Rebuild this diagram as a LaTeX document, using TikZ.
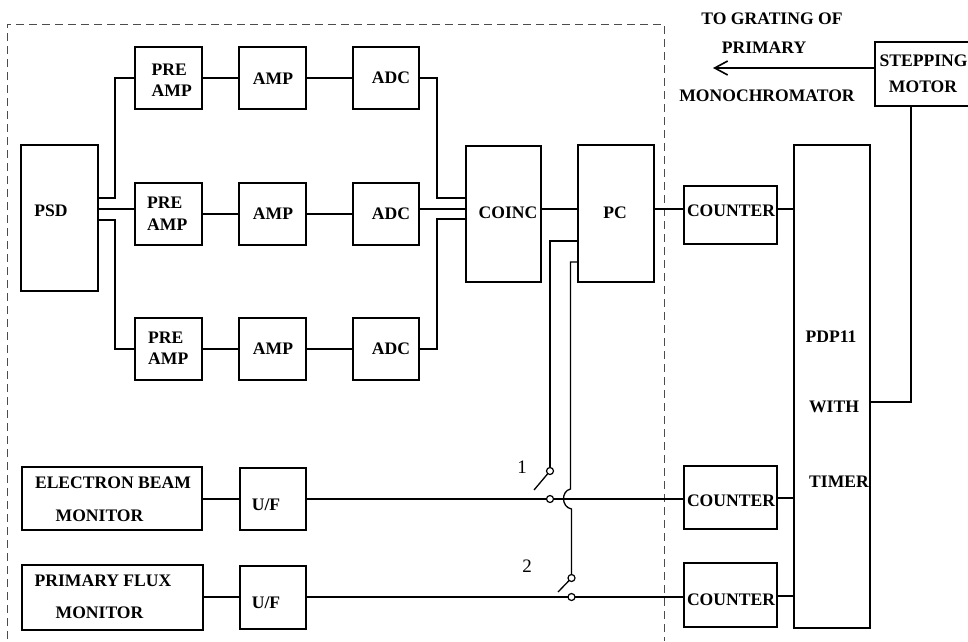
\documentclass[tikz,border=0pt]{standalone}
\usepackage{fontspec}
\setmainfont{Liberation Serif}
\usetikzlibrary{calc,arrows.meta}
\tikzset{
  blk/.style={draw=black,line width=1.3pt,fill=none,inner sep=0pt},
  wire/.style={draw=black,line width=1.3pt},
  lbl/.style={font=\bfseries\fontsize{17.6}{21.5}\selectfont,align=center,inner sep=0pt},
  lbll/.style={font=\bfseries\fontsize{17.6}{21.5}\selectfont,align=left,inner sep=0pt,anchor=west},
  num/.style={font=\fontsize{19}{20}\selectfont,inner sep=0pt},
  contact/.style={circle,draw=black,line width=1.2pt,fill=white,minimum size=7pt,inner sep=0pt},
}
\newcommand{\bx}[5]{\node[blk,minimum width=#4 pt-#2 pt,minimum height=#5 pt-#3 pt] (#1) at ({(#2+#4)/2},{(#3+#5)/2}) {};}
\begin{document}
\begin{tikzpicture}[x=1pt,y=-1pt]
\useasboundingbox (0,0) rectangle (968,641);
\coordinate (dA) at (7,639);
\coordinate (dB) at (7,24);
\coordinate (dC) at (664,24);
\coordinate (dD) at (664,641);
\draw[black!70,dash pattern=on 8pt off 5pt,line width=0.6pt] (dA) -- (dB) -- (dC) -- (dD);
\bx{psd}{21}{145}{98}{291}
\bx{preA}{135}{47}{202}{109}
\bx{preB}{135}{183}{202}{245}
\bx{preC}{135}{318}{202}{380}
\bx{ampA}{239}{47}{306}{109}
\bx{ampB}{239}{183}{306}{245}
\bx{ampC}{239}{318}{306}{380}
\bx{adcA}{353}{47}{419}{109}
\bx{adcB}{353}{183}{419}{245}
\bx{adcC}{353}{318}{419}{380}
\bx{coinc}{466}{146}{541}{282}
\bx{pc}{578}{145}{654}{282}
\bx{cntA}{684}{186}{777}{244}
\bx{cntB}{684}{466}{777}{529}
\bx{cntC}{684}{563}{777}{627}
\bx{pdp}{794}{145}{870}{628}
\bx{step}{875}{42}{974}{106}
\bx{ebm}{22}{467}{202}{530}
\bx{pfm}{22}{565}{203}{630}
\bx{ufA}{240}{468}{306}{530}
\bx{ufB}{240}{566}{306}{629}
% labels
\node[lbl] (tpsd) at (51,211) {PSD};
\node[lbll] (tpA) at (151.5,80) {PRE\\AMP};
\node[lbll] (tpB) at (147,213.5) {PRE\\AMP};
\node[lbll] (tpC) at (148,348) {PRE\\AMP};
\node[lbl] (taA) at (273,79) {AMP};
\node[lbl] (taB) at (273,214) {AMP};
\node[lbl] (taC) at (273,349) {AMP};
\node[lbl] (tdA) at (391,78) {ADC};
\node[lbl] (tdB) at (391,214) {ADC};
\node[lbl] (tdC) at (391,349) {ADC};
\node[lbl] (tco) at (508,213) {COINC};
\node[lbl] (tpc) at (615,213) {PC};
\node[lbl] (tcA) at (731,211) {COUNTER};
\node[lbl] (tcB) at (731,501) {COUNTER};
\node[lbl] (tcC) at (731,600) {COUNTER};
\node[lbl] (ts1) at (923.5,61) {STEPPING};
\node[lbl] (ts2) at (923,87) {MOTOR};
\node[lbl] (te1) at (113,483) {ELECTRON BEAM};
\node[lbl] (te2) at (99.5,516) {MONITOR};
\node[lbl] (tf1) at (103,581) {PRIMARY FLUX};
\node[lbl] (tf2) at (99.5,613) {MONITOR};
\node[lbl] (tuA) at (266,505) {U/F};
\node[lbl] (tuB) at (266,603) {U/F};
\node[lbl] (tp1) at (831,337) {PDP11};
\node[lbl] (tp2) at (834,407) {WITH};
\node[lbl] (tp3) at (839,482) {TIMER};
\node[lbl] (tg1) at (772,19) {TO GRATING OF};
\node[lbl] (tg2) at (764,48) {PRIMARY};
\node[lbl] (tg3) at (767,96) {MONOCHROMATOR};
\node[num] (n1) at (522,467) {1};
\node[num] (n2) at (527,566) {2};
% switch points
\coordinate (swAtop) at (550,471);
\coordinate (swAbot) at (550,499);
\coordinate (swBtop) at (571.5,578);
\coordinate (swBbot) at (571.5,597);
\coordinate (armA) at (534,490);
\coordinate (armB) at (558,592);
\coordinate (tip) at (713,68);
% signal chains
\foreach \r in {A,B,C}{
  \draw[wire] (pre\r) -- (amp\r);
  \draw[wire] (amp\r) -- (adc\r);
}
\draw[wire] (psd.east|-0,209) -- (preB.west|-0,209);
\draw[wire] (psd.east|-0,198) -| (115,198) |- (preA);
\draw[wire] (psd.east|-0,220) -| (115,220) |- (preC);
\draw[wire] (adcB.east|-0,209) -- (coinc.west|-0,209);
\draw[wire] (adcA) -| (437,198) -- (coinc.west|-0,198);
\draw[wire] (adcC) -| (437,219) -- (coinc.west|-0,219);
\draw[wire] (coinc.east|-0,209) -- (pc.west|-0,209);
\draw[wire] (pc.east|-0,209) -- (cntA.west|-0,209);
\draw[wire] (cntA.east|-0,209) -- (pdp.west|-0,209);
\draw[wire] (cntB.east|-0,498) -- (pdp.west|-0,498);
\draw[wire] (cntC.east|-0,596) -- (pdp.west|-0,596);
\draw[wire] (pdp.east|-0,402) -| (step.south-|911,0);
\draw[wire,-{Straight Barb[length=13pt,width=14pt,line width=1.6pt]}] (step.west|-tip) -- (tip);
% switches
\draw[wire] (ebm.east|-0,499) -- (ufA.west|-0,499);
\draw[wire] (pfm.east|-0,597) -- (ufB.west|-0,597);
\draw[wire] (ufA.east|-swAbot) -- (swAbot);
\draw[wire] (ufB.east|-swBbot) -- (swBbot);
\draw[wire] (swAbot) -- (cntB.west|-swAbot);
\draw[wire] (swBbot) -- (cntC.west|-swBbot);
\draw[wire] (pc.west|-0,241) -| (swAtop);
\draw[wire] (pc.west|-0,262) -| (570.5,489) .. controls (561,491) and (561,507) .. (571.5,509) -- (swBtop);
\draw[wire] (swAtop) -- (armA);
\draw[wire] (swBtop) -- (armB);
\node[contact] (cA) at (swAtop) {};
\node[contact] (cB) at (swAbot) {};
\node[contact] (cC) at (swBtop) {};
\node[contact] (cD) at (swBbot) {};
\end{tikzpicture}
\end{document}
